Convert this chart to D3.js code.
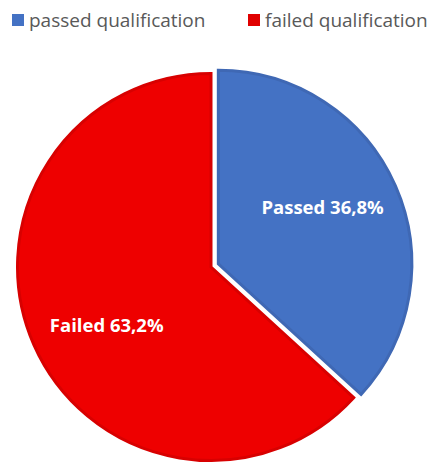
<!DOCTYPE html>
<html><head><meta charset="utf-8">
<script src="https://cdn.jsdelivr.net/npm/d3@7"></script>
<style>body{margin:0;background:#fff}svg{display:block}</style>
</head><body>
<svg id="c" width="433" height="463"></svg>
<script>
const categories = ["passed qualification", "failed qualification"];
const labels = ["Passed", "Failed"];
const values = [36.8, 63.2];
const fills = ["#4472C4", "#EE0000"];
const borders = ["#3F68B4", "#D80000"];
const explode = [8, 0];

const svg = d3.select("#c");
const cx = 211, cy = 267, r = 195;
const pie = d3.pie().sort(null).value(d => d)(values);
const arc = d3.arc().innerRadius(0).outerRadius(r - 1.5);
const g = svg.append("g").attr("transform", `translate(${cx},${cy})`);
const labelShift = -5 * Math.PI / 180;

pie.forEach((p, i) => {
  const mid = (p.startAngle + p.endAngle) / 2;
  const dx = Math.sin(mid) * explode[i], dy = -Math.cos(mid) * explode[i];
  const sg = g.append("g").attr("transform", `translate(${dx},${dy})`);
  sg.append("path").attr("d", arc(p))
    .attr("fill", fills[i]).attr("stroke", borders[i]).attr("stroke-width", 3)
    .attr("stroke-linejoin", "miter");
  const lr = r * 0.61, la = mid + labelShift;
  sg.append("text")
    .attr("x", Math.sin(la) * lr).attr("y", -Math.cos(la) * lr)
    .attr("text-anchor", "middle").attr("dominant-baseline", "central")
    .attr("font-family", "Open Sans, sans-serif").attr("font-weight", "bold")
    .attr("font-size", 18.5).attr("fill", "#fff")
    .text(labels[i] + " " + d3.format(".1f")(values[i]).replace(".", ",") + "%");
});

// legend
const leg = svg.append("g");
const legX = [12, 248];
const legColors = ["#4472C4", "#E00000"];
categories.forEach((c, i) => {
  leg.append("rect").attr("x", legX[i]).attr("y", 14).attr("width", 12).attr("height", 12).attr("fill", legColors[i]);
  leg.append("text").attr("x", legX[i] + 17).attr("y", 20).attr("dominant-baseline", "central")
    .attr("font-family", "Open Sans, sans-serif").attr("font-size", 19).attr("fill", "#595959").text(c);
});
</script>
</body></html>
